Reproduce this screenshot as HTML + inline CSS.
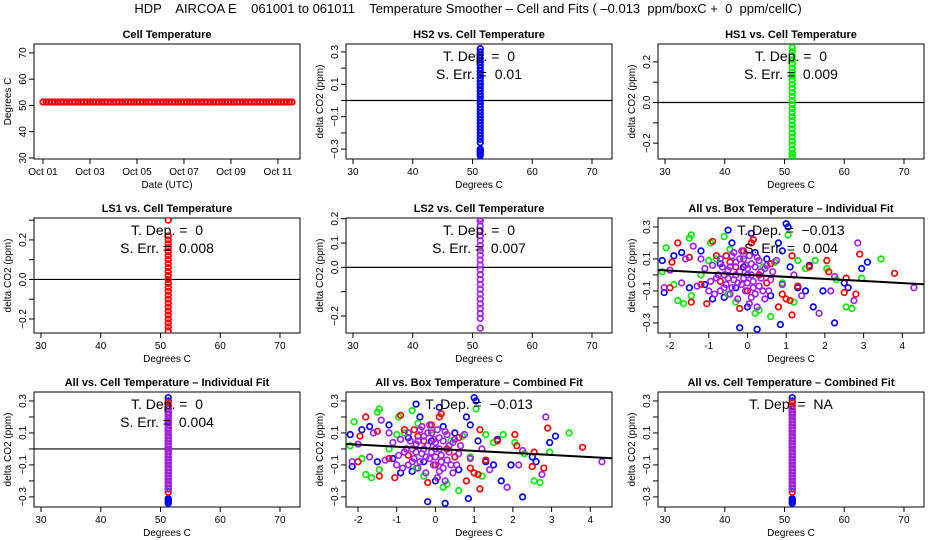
<!DOCTYPE html>
<html><head><meta charset="utf-8"><style>
body{margin:0;background:#fff}
svg{display:block;font-family:"Liberation Sans",Arial,sans-serif}
svg text{white-space:pre}
</style></head><body>
<svg id="c" width="936" height="540" viewBox="0 0 936 540">
<text x="468" y="13" font-size="13" text-anchor="middle" xml:space="preserve">HDP    AIRCOA E    061001 to 061011    Temperature Smoother – Cell and Fits ( –0.013  ppm/boxC +  0  ppm/cellC)</text>
</svg>
<script>
// ---- data ----
const cellDays = [0,0.125,0.25,0.375,0.5,0.625,0.75,0.875,1,1.125,1.25,1.375,1.5,1.625,1.75,1.875,2,2.125,2.25,2.375,2.5,2.625,2.75,2.875,3,3.125,3.25,3.375,3.5,3.625,3.75,3.875,4,4.125,4.25,4.375,4.5,4.625,4.75,4.875,5,5.125,5.25,5.375,5.5,5.625,5.75,5.875,6,6.125,6.25,6.375,6.5,6.625,6.75,6.875,7,7.125,7.25,7.375,7.5,7.625,7.75,7.875,8,8.125,8.25,8.375,8.5,8.625,8.75,8.875,9,9.125,9.25,9.375,9.5,9.625,9.75,9.875,10,10.125,10.25,10.375,10.5,10.6];
const cellTemp = [51.3,51.3,51.3,51.3,51.3,51.3,51.3,51.3,51.3,51.3,51.3,51.3,51.3,51.3,51.3,51.3,51.3,51.3,51.3,51.3,51.3,51.3,51.3,51.3,51.3,51.3,51.3,51.3,51.3,51.3,51.3,51.3,51.3,51.3,51.3,51.3,51.3,51.3,51.3,51.3,51.3,51.3,51.3,51.3,51.3,51.3,51.3,51.3,51.3,51.3,51.3,51.3,51.3,51.3,51.3,51.3,51.3,51.3,51.3,51.3,51.3,51.3,51.3,51.3,51.3,51.3,51.3,51.3,51.3,51.3,51.3,51.3,51.3,51.3,51.3,51.3,51.3,51.3,51.3,51.3,51.3,51.3,51.3,51.3,51.3,51.3];
const dateTicks = ["Oct 01","Oct 03","Oct 05","Oct 07","Oct 09","Oct 11"];
const dateTickDays = [0,2,4,6,8,10];
const stripTemp = 51.3;
const hs2Vals = [-0.34,-0.33,-0.32,-0.31,-0.30,-0.26,-0.24,-0.22,-0.20,-0.18,-0.16,-0.14,-0.12,-0.10,-0.08,-0.06,-0.04,-0.02,0,0.02,0.04,0.06,0.08,0.10,0.12,0.14,0.16,0.18,0.20,0.22,0.24,0.26,0.28,0.30,0.32];
const hs1Vals = [-0.27,-0.26,-0.25,-0.23,-0.21,-0.19,-0.17,-0.15,-0.13,-0.11,-0.09,-0.07,-0.05,-0.03,-0.01,0.01,0.03,0.05,0.07,0.09,0.11,0.13,0.15,0.17,0.19,0.21,0.23,0.25,0.27];
const ls1Vals = [-0.26,-0.24,-0.22,-0.20,-0.18,-0.16,-0.14,-0.12,-0.10,-0.08,-0.06,-0.04,-0.02,0,0.02,0.04,0.06,0.08,0.10,0.12,0.14,0.16,0.18,0.20,0.22,0.30];
const ls2Vals = [-0.25,-0.21,-0.19,-0.17,-0.15,-0.13,-0.11,-0.09,-0.07,-0.05,-0.03,-0.01,0.01,0.03,0.05,0.07,0.09,0.11,0.13,0.15,0.17,0.19,0.20];
const allCellVals = [-0.27,-0.25,-0.23,-0.21,-0.19,-0.17,-0.15,-0.13,-0.11,-0.09,-0.07,-0.05,-0.03,-0.01,0.01,0.03,0.05,0.07,0.09,0.11,0.13,0.15,0.17,0.19,0.21,0.23,0.25,0.27,0.29];
const allCellBlueOut = [-0.34,-0.33,-0.32,-0.31,0.30,0.32];
const blueBox = [[-2.2,0.09],[-2.15,-0.11],[-1.9,0.12],[-1.7,0.14],[-1.5,-0.08],[-1.2,0.15],[-1.1,-0.06],[-0.9,-0.15],[-0.7,0.07],[-0.6,-0.14],[-0.5,0.28],[-0.4,0.2],[-0.3,-0.08],[-0.2,-0.33],[-0.1,0.05],[0,-0.2],[0.1,0.26],[0.2,0.14],[0.25,-0.34],[0.3,0.0],[0.5,0.1],[0.6,-0.13],[0.8,0.2],[0.85,-0.31],[0.9,0.15],[1.0,0.32],[1.05,0.3],[1.1,0.05],[1.3,-0.08],[1.5,-0.1],[1.6,0.06],[1.7,-0.2],[1.95,-0.1],[2.25,-0.3],[2.5,-0.05],[2.6,-0.08],[2.95,0.04],[3.1,0.08]];
const greenBox = [[-2.2,0.02],[-2.1,0.17],[-1.9,-0.06],[-1.8,-0.16],[-1.65,-0.18],[-1.5,0.23],[-1.45,0.25],[-1.45,-0.13],[-1.2,0.0],[-1.0,0.09],[-0.95,0.2],[-0.8,0.1],[-0.6,0.24],[-0.5,-0.12],[-0.45,0.16],[-0.3,-0.17],[-0.1,0.12],[0.2,-0.24],[0.3,-0.22],[0.4,0.05],[0.6,-0.26],[0.7,0.08],[0.9,-0.05],[1.05,0.25],[1.2,-0.17],[1.3,0.09],[1.5,0.04],[1.75,0.09],[2.05,0.04],[2.3,-0.03],[2.55,-0.2],[2.7,-0.21],[2.95,-0.02],[3.45,0.1]];
const redBox = [[-2.0,-0.08],[-1.95,0.08],[-1.8,0.2],[-1.5,0.11],[-1.45,-0.17],[-1.2,-0.06],[-1.05,-0.18],[-0.9,0.21],[-0.8,0.12],[-0.7,-0.04],[-0.55,0.12],[-0.45,0.08],[-0.3,0.05],[-0.2,-0.21],[-0.1,0.15],[0.0,-0.1],[0.1,0.2],[0.15,0.22],[0.3,0.0],[0.5,-0.05],[0.6,0.07],[0.8,-0.2],[0.9,-0.12],[1.0,-0.15],[1.1,-0.16],[1.15,0.12],[1.15,-0.25],[1.3,-0.07],[1.6,0.05],[2.05,0.09],[2.1,0.02],[2.5,-0.11],[2.55,-0.02],[2.8,-0.12],[2.9,0.13],[3.8,0.01]];
const purpleBox = [[-2.15,-0.08],[-2.0,0.03],[-1.7,-0.05],[-1.6,0.1],[-1.4,0.18],[-1.3,-0.07],[-1.1,0.04],[-1.0,-0.1],[-0.9,0.06],[-0.8,-0.02],[-0.7,0.1],[-0.6,-0.08],[-0.5,0.03],[-0.45,-0.12],[-0.4,0.12],[-0.35,-0.03],[-0.3,0.08],[-0.25,-0.15],[-0.2,0.02],[-0.15,-0.06],[-0.1,0.1],[-0.05,-0.1],[0.0,0.04],[0.05,-0.18],[0.1,0.07],[0.15,-0.04],[0.2,-0.12],[0.25,0.11],[0.3,-0.07],[0.35,0.02],[0.45,-0.15],[0.5,0.06],[0.6,-0.03],[0.75,0.09],[0.9,-0.06],[1.2,0.0],[1.4,-0.13],[1.85,-0.24],[2.15,-0.1],[2.25,-0.01],[2.75,-0.16],[2.85,0.2],[4.3,-0.08],[-0.95,-0.04],[-0.75,0.0],[-0.65,0.05],[-0.55,-0.06],[-0.4,-0.08],[-0.3,0.0],[-0.2,0.1],[-0.1,-0.02],[0.0,-0.05],[0.1,0.0],[0.2,0.05],[0.3,0.09],[0.4,-0.1],[0.05,0.12],[-0.15,0.15],[0.25,-0.2],[0.55,-0.1],[0.65,0.02],[-0.85,-0.12],[-1.2,0.1],[-0.6,0.0],[-0.45,0.05],[-0.25,-0.05],[-0.05,0.06],[0.15,-0.08],[0.35,-0.02],[0.45,0.04],[-0.7,-0.1],[-0.35,0.14],[0.1,-0.14],[-0.5,-0.02],[0.0,0.0]];
const fitSlope = -0.013;
const fitIntercept = 0.001;
const degTicks = [30,40,50,60,70];
const boxTicks = [-2,-1,0,1,2,3,4];

// ---- drawing ----
const svg = document.getElementById('c');
const NS = 'http://www.w3.org/2000/svg';
const COLX = [34,346,658], ROWY = [44,218,392], W = 266, H = 115;
const BLUE='#0000ff', GREEN='#00ee00', RED='#ff0000', PURPLE='#a020f0';
function mk(tag, attrs, parent){const e=document.createElementNS(NS,tag);for(const k in attrs)e.setAttribute(k,attrs[k]);(parent||svg).appendChild(e);return e;}

function panel(id, col, row, title, xlim, ylim, xticks, xlabels, yticks, ylabels, xtitle, ytitle){
  const g = mk('g',{});
  
  
  const x0=COLX[col], y0=ROWY[row];
  const sx = v => x0 + (v-xlim[0])/(xlim[1]-xlim[0])*W;
  const sy = v => y0 + H - (v-ylim[0])/(ylim[1]-ylim[0])*H;
  const t = mk('text',{x:x0+W/2,y:y0-6,'font-size':11,'font-weight':'bold','text-anchor':'middle'},g); t.textContent=title;
  
  
  const ax = mk('g',{},g);
  
  
  mk('line',{x1:sx(xticks[0]),x2:sx(xticks[xticks.length-1]),y1:y0+H,y2:y0+H,stroke:'#000'},ax);
  xticks.forEach((v,i)=>{mk('line',{x1:sx(v),x2:sx(v),y1:y0+H,y2:y0+H+5,stroke:'#000'},ax);
    const l=mk('text',{x:sx(v),y:y0+H+16,'font-size':10,'text-anchor':'middle'},ax); l.textContent=xlabels[i];});
  const xt=mk('text',{x:x0+W/2,y:y0+H+29,'font-size':10,'text-anchor':'middle'},ax); xt.textContent=xtitle;
  
  
  const ay = mk('g',{},g);
  
  
  mk('line',{x1:x0,x2:x0,y1:sy(yticks[0]),y2:sy(yticks[yticks.length-1]),stroke:'#000'},ay);
  yticks.forEach((v,i)=>{mk('line',{x1:x0,x2:x0-5,y1:sy(v),y2:sy(v),stroke:'#000'},ay);
    if(ylabels[i]!==''){const l=mk('text',{x:0,y:0,'font-size':10,'text-anchor':'middle',transform:`translate(${x0-8},${sy(v)}) rotate(-90)`},ay); l.textContent=ylabels[i];}});
  const yt=mk('text',{x:0,y:0,'font-size':10,'text-anchor':'middle',transform:`translate(${x0-23},${y0+H/2}) rotate(-90)`},ay); yt.textContent=ytitle;
  
  
  mk('rect',{x:x0,y:y0,width:W,height:H,fill:'none',stroke:'#000'},g);
  const clip = 'cp'+id; const cp=mk('clipPath',{id:clip},g); mk('rect',{x:x0,y:y0,width:W,height:H},cp);
  const plot = mk('g',{'clip-path':`url(#${clip})`},g);
  return {g,plot,sx,sy,x0,y0};
}
function pt(p,x,y,color,name){
  const c=mk('circle',{cx:p.sx(x),cy:p.sy(y),r:2.8,fill:'none',stroke:color,'stroke-width':1.7},p.plot);
  
  
}
function zero(p){mk('line',{x1:p.x0,x2:p.x0+W,y1:p.sy(0),y2:p.sy(0),stroke:'#000','stroke-width':1.2},p.plot);}
function note(p,lines){lines.forEach((s,i)=>{const t=mk('text',{x:p.x0+W/2,y:p.y0+17+i*18,'font-size':14,'text-anchor':'middle'},p.g);t.textContent=s;
  
  });}

const DEGX=[28.83,73.35], BOXX=[-2.31,4.56];
const degL = degTicks.map(String), boxL = boxTicks.map(String);

// 1 cell temperature
let p = panel('cell-temperature-panel',0,0,'Cell Temperature',[-0.383,10.94],[29.6,73.4],dateTickDays,dateTicks,[30,40,50,60,70],['30','40','50','60','70'],'Date (UTC)','Degrees C');
cellDays.forEach((d,i)=>{pt(p,d,cellTemp[i],RED,'cell-temp-point');});
mk('line',{x1:p.sx(cellDays[0]),x2:p.sx(cellDays[cellDays.length-1]),y1:p.sy(51.3),y2:p.sy(51.3),stroke:'#600','stroke-width':1,'stroke-dasharray':'2 2'},p.plot);

// 2 HS2
p = panel('hs2-panel',1,0,'HS2 vs. Cell Temperature',DEGX,[-0.361,0.349],degTicks,degL,[-0.3,-0.2,-0.1,0,0.1,0.2,0.3],['−0.3','','−0.1','','0.1','','0.3'],'Degrees C','delta CO2 (ppm)');
zero(p); hs2Vals.forEach(v=>pt(p,stripTemp,v,BLUE,'hs2-point')); note(p,['T. Dep. =  0','S. Err. =  0.01']);

// 3 HS1
p = panel('hs1-panel',2,0,'HS1 vs. Cell Temperature',DEGX,[-0.278,0.288],degTicks,degL,[-0.2,-0.1,0,0.1,0.2],['−0.2','','0.0','','0.2'],'Degrees C','delta CO2 (ppm)');
zero(p); hs1Vals.forEach(v=>pt(p,stripTemp,v,GREEN,'hs1-point')); note(p,['T. Dep. =  0','S. Err. =  0.009']);

// 4 LS1
p = panel('ls1-panel',0,1,'LS1 vs. Cell Temperature',DEGX,[-0.271,0.311],degTicks,degL,[-0.2,-0.1,0,0.1,0.2,0.3],['−0.2','','0.0','','0.2',''],'Degrees C','delta CO2 (ppm)');
zero(p); ls1Vals.forEach(v=>pt(p,stripTemp,v,RED,'ls1-point')); note(p,['T. Dep. =  0','S. Err. =  0.008']);

// 5 LS2
p = panel('ls2-panel',1,1,'LS2 vs. Cell Temperature',DEGX,[-0.27,0.203],degTicks,degL,[-0.2,-0.1,0,0.1,0.2],['−0.2','','0.0','0.1','0.2'],'Degrees C','delta CO2 (ppm)');
zero(p); ls2Vals.forEach(v=>pt(p,stripTemp,v,PURPLE,'ls2-point')); note(p,['T. Dep. =  0','S. Err. =  0.007']);

function scatterAll(p){
  blueBox.forEach(d=>pt(p,d[0],d[1],BLUE,'blue-point'));
  greenBox.forEach(d=>pt(p,d[0],d[1],GREEN,'green-point'));
  redBox.forEach(d=>pt(p,d[0],d[1],RED,'red-point'));
  purpleBox.forEach(d=>pt(p,d[0],d[1],PURPLE,'purple-point'));
  const f=mk('line',{x1:p.sx(BOXX[0]),x2:p.sx(BOXX[1]),y1:p.sy(fitIntercept+fitSlope*BOXX[0]),y2:p.sy(fitIntercept+fitSlope*BOXX[1]),stroke:'#000','stroke-width':2},p.plot);
  
  
}
const ALLY=[-0.363,0.356], ALLT=[-0.3,-0.2,-0.1,0,0.1,0.2,0.3], ALLL=['−0.3','','−0.1','','0.1','','0.3'];

// 6 All vs box individual
p = panel('all-box-individual-panel',2,1,'All vs. Box Temperature – Individual Fit',BOXX,ALLY,boxTicks,boxL,ALLT,ALLL,'Degrees C','delta CO2 (ppm)');
scatterAll(p); note(p,['T. Dep. =  −0.013','S. Err. =  0.004']);

function cellAll(p){
  allCellBlueOut.forEach(v=>pt(p,stripTemp,v,BLUE,'all-cell-point'));
  allCellVals.forEach(v=>pt(p,stripTemp,v,GREEN,'all-cell-point'));
  allCellVals.forEach(v=>pt(p,stripTemp,v,RED,'all-cell-point'));
  allCellVals.slice(1,-2).forEach(v=>pt(p,stripTemp,v,PURPLE,'all-cell-point'));
}
// 7
p = panel('all-cell-individual-panel',0,2,'All vs. Cell Temperature – Individual Fit',DEGX,ALLY,degTicks,degL,ALLT,ALLL,'Degrees C','delta CO2 (ppm)');
zero(p); cellAll(p); note(p,['T. Dep. =  0','S. Err. =  0.004']);
// 8
p = panel('all-box-combined-panel',1,2,'All vs. Box Temperature – Combined Fit',BOXX,ALLY,boxTicks,boxL,ALLT,ALLL,'Degrees C','delta CO2 (ppm)');
scatterAll(p); note(p,['T. Dep. =  −0.013']);
// 9
p = panel('all-cell-combined-panel',2,2,'All vs. Cell Temperature – Combined Fit',DEGX,ALLY,degTicks,degL,ALLT,ALLL,'Degrees C','delta CO2 (ppm)');
cellAll(p); note(p,['T. Dep. =  NA']);
</script>
</body></html>
